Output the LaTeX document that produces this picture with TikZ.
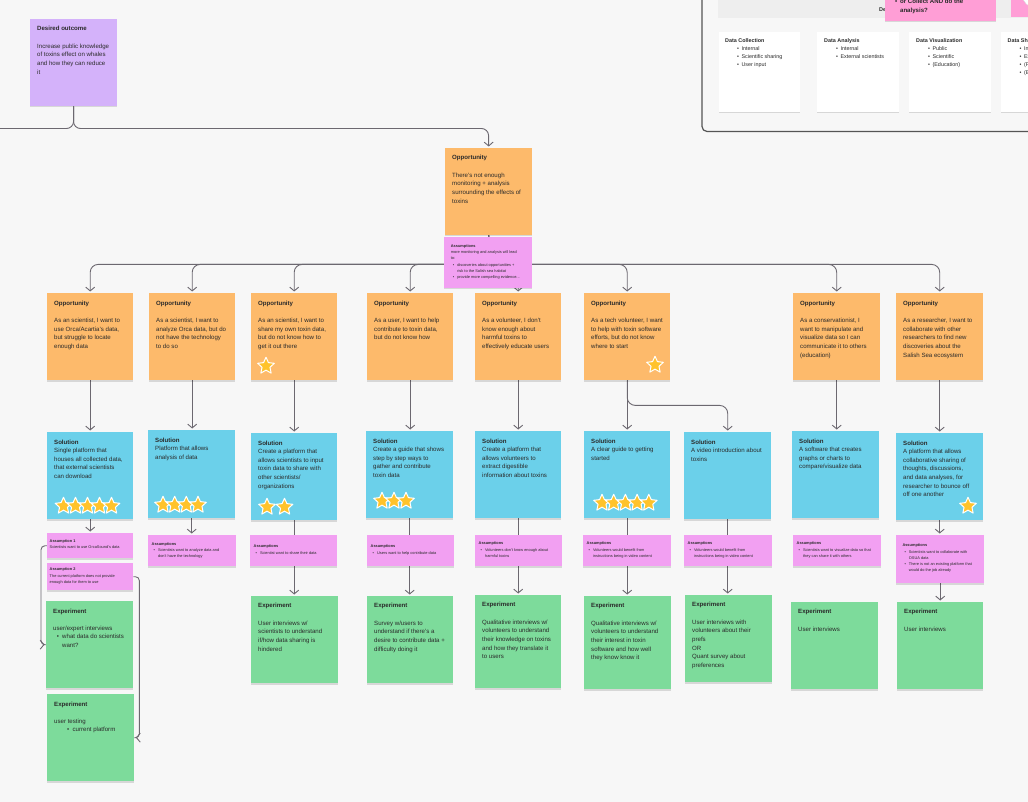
\documentclass[tikz,border=0pt]{standalone}
\usepackage{fontspec}
\setmainfont{Liberation Sans}
\usetikzlibrary{arrows.meta,shapes.geometric,shadows,calc}
\definecolor{bgC}{HTML}{F7F7F7}
\definecolor{oppC}{HTML}{FDBA6B}
\definecolor{solC}{HTML}{6BD0EA}
\definecolor{asmC}{HTML}{F2A0F2}
\definecolor{expC}{HTML}{7DDB9B}
\definecolor{desC}{HTML}{D4B2FA}
\definecolor{pinkC}{HTML}{FF9ED6}
\definecolor{starC}{HTML}{FFC32B}
\definecolor{lineC}{HTML}{6C6870}
\definecolor{txtC}{HTML}{2A2A2A}
\definecolor{barC}{HTML}{EEEEEE}
\definecolor{frameC}{HTML}{555555}
\pgfdeclarelayer{bg}
\pgfsetlayers{bg,main}
\newcommand{\stk}[9]{%
  \node[box,fill=#6,minimum width=#4pt,minimum height=#5pt,anchor=north west] (#1) at (#2,#3) {};
  \node[#8,anchor=north west] (#1t) at ($(#2,#3)+(#7)$) {#9};}
\newcommand{\smbul}{\hspace*{2pt}\textbullet\hspace*{3pt}}
\newcommand{\smind}{\hspace*{6.4pt}}
\newcommand{\cbul}{\hspace*{12pt}\textbullet\hspace*{2.5pt}}
\tikzset{
  box/.style={rectangle,inner sep=0pt,draw=none,drop shadow={shadow xshift=0pt,shadow yshift=-1.3pt,opacity=0.13,fill=black}},
  body/.style={align=left,inner sep=0pt,text=txtC,font=\fontsize{6.1}{8.65}\selectfont},
  small/.style={align=left,inner sep=0pt,text=txtC,font=\fontsize{3.9}{6.2}\selectfont},
  card/.style={align=left,inner sep=0pt,text=txtC,font=\fontsize{5.4}{8}\selectfont},
  conn/.style={draw=lineC,line width=0.9pt},
  arr/.style={conn,shorten >=1.5pt,-{Straight Barb[length=3.8pt,width=9pt]}},
  ystar/.style={star,star points=5,star point ratio=2.1,fill=starC,draw=white,line width=1pt,line join=round,minimum size=17.5pt,inner sep=0pt}
}
\begin{document}
\begin{tikzpicture}[x=1pt,y=-1pt]
\useasboundingbox (0,0) rectangle (1028,802);
% ---------- top right frame ----------
\draw[frameC,line width=1.2pt,rounded corners=5pt] (702,-20) -- (702,131.5) -- (1045,131.5);
\fill[barC] (718,-5) rectangle (1045,18.5);
\node[anchor=base west,inner sep=0pt,text=txtC,font=\fontsize{5.5}{7}\selectfont\bfseries] (dtxt) at (879,11.7) {De};
\node[box,fill=pinkC,minimum width=111pt,minimum height=41pt,anchor=north west] (pn) at (885,-20) {};
\node[anchor=north west,align=left,inner sep=0pt,text=txtC,font=\fontsize{6.1}{8.8}\selectfont\bfseries] (pnt) at (895,-0.9) {\textbullet\hspace*{2.8pt}or Collect AND do the\\\hspace*{4.9pt}analysis?};
\fill[pinkC] (1011,-10) rectangle (1045,17.5);
\draw[black!15,fill=white] (1036,-6) circle (14);
\stk{c1}{719}{32}{81}{80}{white}{6,6.8}{card}{\textbf{Data Collection}\\\cbul Internal\\\cbul Scientific sharing\\\cbul User input}
\stk{c2}{817}{32}{82}{80}{white}{7,6.8}{card}{\textbf{Data Analysis}\\\cbul Internal\\\cbul External scientists}
\stk{c3}{909}{32}{82}{80}{white}{7,6.8}{card}{\textbf{Data Visualization}\\\cbul Public\\\cbul Scientific\\\cbul (Education)}
\stk{c4}{1001}{32}{82}{80}{white}{6.5,6.8}{card}{\textbf{Data Sharing}\\\cbul Internal\\\cbul External\\\cbul (Public)\\\cbul (Education)}
% ---------- desired outcome & root opportunity ----------
\stk{des}{30}{19}{87}{87}{desC}{7,7.3}{body}{\textbf{Desired outcome}\\[8.65pt]Increase public knowledge\\of toxins effect on whales\\and how they can reduce\\it}
\stk{opp}{445}{148}{87}{87}{oppC}{7,7.3}{body}{\textbf{Opportunity}\\[8.65pt]There's not enough\\monitoring + analysis\\surrounding the effects of\\toxins}
\stk{asm}{444}{237}{88}{51}{asmC}{6.7,7.4}{small}{\textbf{Assumptions}\\more monitoring and analysis will lead\\to:\\\smbul discoveries about opportunities +\\\smind risk to the Salish sea habitat\\\smbul provide more compelling evidence...}
% ---------- opportunities ----------
\stk{o1}{47}{293}{86}{87}{oppC}{7,7.6}{body}{\textbf{Opportunity}\\[8.65pt]As an scientist, I want to\\use Orca/Acartia's data,\\but struggle to locate\\enough data}
\stk{o2}{149}{293}{86}{87}{oppC}{7,7.6}{body}{\textbf{Opportunity}\\[8.65pt]As a scientist, I want to\\analyze Orca data, but do\\not have the technology\\to do so}
\stk{o3}{251}{293}{86}{87}{oppC}{7,7.6}{body}{\textbf{Opportunity}\\[8.65pt]As an scientist, I want to\\share my own toxin data,\\but do not know how to\\get it out there}
\stk{o4}{367}{293}{86}{87}{oppC}{7,7.6}{body}{\textbf{Opportunity}\\[8.65pt]As a user, I want to help\\contribute to toxin data,\\but do not know how}
\stk{o5}{475}{293}{86}{87}{oppC}{7,7.6}{body}{\textbf{Opportunity}\\[8.65pt]As a volunteer, I don't\\know enough about\\harmful toxins to\\effectively educate users}
\stk{o6}{584}{293}{86}{87}{oppC}{7,7.6}{body}{\textbf{Opportunity}\\[8.65pt]As a tech volunteer, I want\\to help with toxin software\\efforts, but do not know\\where to start}
\stk{o7}{793}{293}{87}{87}{oppC}{7,7.6}{body}{\textbf{Opportunity}\\[8.65pt]As a conservationist, I\\want to manipulate and\\visualize data so I can\\communicate it to others\\(education)}
\stk{o8}{896}{293}{87}{87}{oppC}{7,7.6}{body}{\textbf{Opportunity}\\[8.65pt]As a researcher, I want to\\collaborate with other\\researchers to find new\\discoveries about the\\Salish Sea ecosystem}
% ---------- solutions ----------
\stk{s1}{47}{432}{86}{87}{solC}{7,7.4}{body}{\textbf{Solution}\\Single platform that\\houses all collected data,\\that external scientists\\can download}
\stk{s2}{148}{430}{87}{88}{solC}{7,7.4}{body}{\textbf{Solution}\\Platform that allows\\analysis of data}
\stk{s3}{251}{433}{86}{87}{solC}{7,7.4}{body}{\textbf{Solution}\\Create a platform that\\allows scientists to input\\toxin data to share with\\other scientists/\\organizations}
\stk{s4}{366}{431}{87}{87}{solC}{7,7.4}{body}{\textbf{Solution}\\Create a guide that shows\\step by step ways to\\gather and contribute\\toxin data}
\stk{s5}{475}{431}{86}{87}{solC}{7,7.4}{body}{\textbf{Solution}\\Create a platform that\\allows volunteers to\\extract digestible\\information about toxins}
\stk{s6}{584}{431}{86}{87}{solC}{7,7.4}{body}{\textbf{Solution}\\A clear guide to getting\\started}
\stk{s7}{684}{432}{87}{87}{solC}{7,7.4}{body}{\textbf{Solution}\\A video introduction about\\toxins}
\stk{s8}{792}{431}{87}{87}{solC}{7,7.4}{body}{\textbf{Solution}\\A software that creates\\graphs or charts to\\compare/visualize data}
\stk{s9}{896}{433}{87}{87}{solC}{7,7.4}{body}{\textbf{Solution}\\A platform that allows\\collaborative sharing of\\thoughts, discussions,\\and data analyses, for\\researcher to bounce off\\off one another}
% ---------- assumptions ----------
\stk{a1}{47}{533}{86}{25}{asmC}{2.5,6.4}{small}{\textbf{Assumption 1}\\Scientists want to use OrcaSound's data}
\stk{a1b}{47}{563}{86}{27}{asmC}{2.5,4.8}{small}{\textbf{Assumption 2}\\The current platform does not provide\\enough data for them to use}
\stk{a2}{148}{535}{88}{31}{asmC}{3.5,7.1}{small}{\textbf{Assumptions}\\\smbul Scientists want to analyze data and\\\smind don't have the technology}
\stk{a3}{250}{535}{87}{31}{asmC}{3.5,9.8}{small}{\textbf{Assumptions}\\\smbul Scientist want to share their data}
\stk{a4}{367}{535}{87}{31}{asmC}{3.5,9.8}{small}{\textbf{Assumptions}\\\smbul Users want to help contribute data}
\stk{a5}{475}{535}{87}{31}{asmC}{3.5,6.8}{small}{\textbf{Assumptions}\\\smbul Volunteers don't know enough about\\\smind harmful toxins}
\stk{a6}{583}{535}{88}{31}{asmC}{3.5,6.8}{small}{\textbf{Assumptions}\\\smbul Volunteers would benefit from\\\smind instructions being in video content}
\stk{a7}{684}{535}{88}{31}{asmC}{3.5,6.8}{small}{\textbf{Assumptions}\\\smbul Volunteers would benefit from\\\smind instructions being in video content}
\stk{a8}{793}{535}{88}{31}{asmC}{3.5,6.8}{small}{\textbf{Assumptions}\\\smbul Scientists want to visualize data so that\\\smind they can share it with others}
\stk{a9}{896}{535}{88}{48}{asmC}{6.3,8.8}{small}{\textbf{Assumptions}\\\smbul Scientists want to collaborate with\\\smind OSUA data\\\smbul There is not an existing platform that\\\smind would do the job already}
% ---------- experiments ----------
\stk{e1a}{46}{601}{87}{87}{expC}{7,7.4}{body}{\textbf{Experiment}\\[8.65pt]user/expert interviews\\\hspace*{3.6pt}\textbullet\hspace*{3.3pt}what data do scientists\\\hspace*{9pt}want?}
\stk{e1b}{47}{694}{87}{87}{expC}{7,7.4}{body}{\textbf{Experiment}\\[8.65pt]user testing\\\hspace*{13pt}\textbullet\hspace*{3.3pt}current platform}
\stk{e3}{251}{596}{87}{87}{expC}{7,7.3}{body}{\textbf{Experiment}\\[8.65pt]User interviews w/\\scientists to understand\\if/how data sharing is\\hindered}
\stk{e4}{367}{596}{86}{87}{expC}{7,7.3}{body}{\textbf{Experiment}\\[8.65pt]Survey w/users to\\understand if there's a\\desire to contribute data +\\difficulty doing it}
\stk{e5}{475}{595}{86}{93}{expC}{7,7.3}{body}{\textbf{Experiment}\\[8.65pt]Qualitative interviews w/\\volunteers to understand\\their knowledge on toxins\\and how they translate it\\to users}
\stk{e6}{584}{596}{87}{93}{expC}{7,7.3}{body}{\textbf{Experiment}\\[8.65pt]Qualitative interviews w/\\volunteers to understand\\their interest in toxin\\software and how well\\they know know it}
\stk{e7}{685}{595}{87}{87}{expC}{7,7.3}{body}{\textbf{Experiment}\\[8.65pt]User interviews with\\volunteers about their\\prefs\\OR\\Quant survey about\\preferences}
\stk{e8}{791}{602}{87}{87}{expC}{7,7.3}{body}{\textbf{Experiment}\\[8.65pt]User interviews}
\stk{e9}{897}{602}{86}{87}{expC}{7,7.3}{body}{\textbf{Experiment}\\[8.65pt]User interviews}
% ---------- stars ----------
\node[ystar] (o3st) at (266,366) {};
\node[ystar] (o6st) at (655,365) {};
\foreach \i/\x in {1/63.5,2/75.5,3/87.5,4/99.5,5/111.5} \node[ystar] (s1st\i) at (\x,506) {};
\foreach \i/\x in {1/163,2/174.7,3/186.3,4/198} \node[ystar] (s2st\i) at (\x,505) {};
\foreach \i/\x in {1/267,2/284.5} \node[ystar] (s3st\i) at (\x,507) {};
\foreach \i/\x in {1/382,2/394,3/406} \node[ystar] (s4st\i) at (\x,501) {};
\foreach \i/\x in {1/602,2/613.7,3/625.4,4/637.1,5/648.8} \node[ystar] (s6st\i) at (\x,503) {};
\node[ystar] (s9st) at (968,506) {};
% ---------- connectors ----------
\begin{pgfonlayer}{bg}
\fill[bgC] (0,0) rectangle (1028,802);
\coordinate (offl) at (-5,128.5);
\draw[conn,rounded corners=7pt] (des.south) -- (73.5,128.5) -- (offl);
\draw[arr,rounded corners=7pt] (des.south) -- (73.5,128.5) -- (488.5,128.5) -- (opp.north);
\foreach \n in {o1,o2,o3,o4,o5,o6,o7,o8}
  \draw[arr,rounded corners=8pt] (opp.south) -- ++(0,29) -| (\n.north);
\foreach \o/\s in {o1/s1,o2/s2,o3/s3,o4/s4,o5/s5,o6/s6,o7/s8,o8/s9}
  \draw[arr] (\o.south) -- (\o.south |- \s.north);
\draw[arr,rounded corners=8pt] (o6.south) -- ++(0,25) -| (s7.north);
\draw[arr] (s1.south) -- (a1.north);
\draw[arr,rounded corners=4pt] (a1.west) -- ++(-6,0) |- (e1a.west);
\draw[arr,rounded corners=4pt] (a1b.east) -- ++(6,0) |- (e1b.east);
\draw[arr] (s2.south) -- (s2.south |- a2.north);
\foreach \s/\e in {s3/e3,s4/e4,s5/e5,s6/e6,s7/e7}
  \draw[arr] (\s.south) -- (\s.south |- \e.north);
\draw[arr] (s9.south) -- (s9.south |- a9.north);
\draw[arr] (a9.south) -- (a9.south |- e9.north);
\end{pgfonlayer}
\end{tikzpicture}
\end{document}
